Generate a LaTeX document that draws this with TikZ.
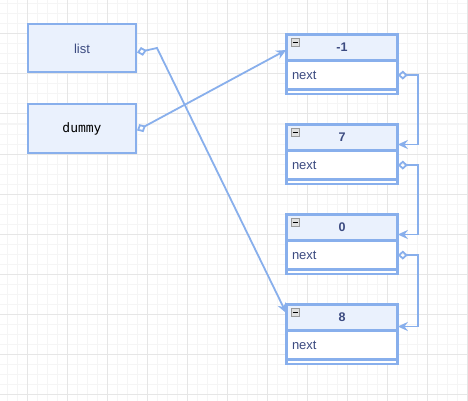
\documentclass[tikz,border=0pt]{standalone}
\usepackage{fontspec}
\setmainfont{Liberation Sans}
\setmonofont{DejaVu Sans Mono}
\usetikzlibrary{positioning,arrows.meta}
\definecolor{edge}{HTML}{88AFEC}
\definecolor{boxfill}{HTML}{EAF1FD}
\definecolor{ink}{HTML}{3B4A80}
\definecolor{gridmajor}{HTML}{E6E6E6}
\definecolor{gridminor}{HTML}{F5F5F5}
\begin{document}
\begin{tikzpicture}[x=1pt,y=-1pt,
  var/.style={draw=edge,line width=2pt,fill=boxfill,minimum width=108pt,minimum height=48pt,inner sep=0pt,font=\fontsize{13}{15}\selectfont,text=ink},
  hdr/.style={draw=edge,line width=1.6pt,fill=boxfill,minimum width=110pt,minimum height=25pt,inner sep=0pt,font=\bfseries\fontsize{12.5}{14}\selectfont,text=ink},
  fld/.style={draw=edge,line width=1.6pt,fill=white,text width=100pt,minimum height=27pt,inner sep=5pt,align=left,font=\fontsize{13}{15}\selectfont,text=ink},
  tail/.style={draw=edge,line width=1.4pt,fill=white,minimum width=110pt,minimum height=3.5pt,inner sep=0pt},
  frame/.style={draw=edge,line width=2pt},
  minus/.style={draw=gray!80,fill=gray!25,line width=0.7pt,minimum size=8pt,inner sep=0pt,
    path picture={\draw[black,line width=1pt] ([xshift=-2.5pt]path picture bounding box.center) -- ([xshift=2.5pt]path picture bounding box.center);}},
  link/.style={draw=edge,line width=1.8pt,{Diamond[open,length=10pt,width=9pt]}-{Stealth[length=10pt,width=9pt]}}]
  \useasboundingbox[fill=white] (0,0) rectangle (468,401);
  % grid
  \foreach \x in {7,17,...,467} \draw[gridminor,line width=1pt] (\x,0) -- (\x,401);
  \foreach \y in {4,14,...,394} \draw[gridminor,line width=1pt] (0,\y) -- (468,\y);
  \foreach \x in {27,67,...,467} \draw[gridmajor,line width=1pt] (\x,0) -- (\x,401);
  \foreach \y in {34,74,...,394} \draw[gridmajor,line width=1pt] (0,\y) -- (468,\y);

  \node[var] (list) at (82,48.5) {list};
  \node[var,font=\ttfamily\fontsize{13}{15}\selectfont,text=black] (dummy) at (82,128.5) {dummy};

  \node[hdr] (h1) at (342,47.5) {-1};
  \node[fld,below=0pt of h1] (f1) {next};
  \node[tail,below=0pt of f1] (t1) {};
  \node[hdr] (h2) at (342,137.5) {7};
  \node[fld,below=0pt of h2] (f2) {next};
  \node[tail,below=0pt of f2] (t2) {};
  \node[hdr] (h3) at (342,227.5) {0};
  \node[fld,below=0pt of h3] (f3) {next};
  \node[tail,below=0pt of f3] (t3) {};
  \node[hdr] (h4) at (342,317.5) {8};
  \node[fld,below=0pt of h4] (f4) {next};
  \node[tail,below=0pt of f4] (t4) {};

  \foreach \i in {1,2,3,4} {
    \draw[frame] (h\i.north west) rectangle (t\i.south east);
    \node[minus] at ([xshift=9pt,yshift=-8.5pt]h\i.north west) {};
  }

  \draw[link] (f1.east) -- ++(20,0) |- ([yshift=-7pt]h2.east);
  \draw[link] (f2.east) -- ++(20,0) |- ([yshift=-7pt]h3.east);
  \draw[link] (f3.east) -- ++(20,0) |- ([yshift=-9pt]h4.east);

  \coordinate (bend) at (157,48);
  \draw[link] ([yshift=-4pt]list.east) -- (bend) -- ([yshift=4.5pt]h4.west);
  \draw[link] ([yshift=-2pt]dummy.east) -- ([yshift=-2.5pt]h1.west);
\end{tikzpicture}
\end{document}
